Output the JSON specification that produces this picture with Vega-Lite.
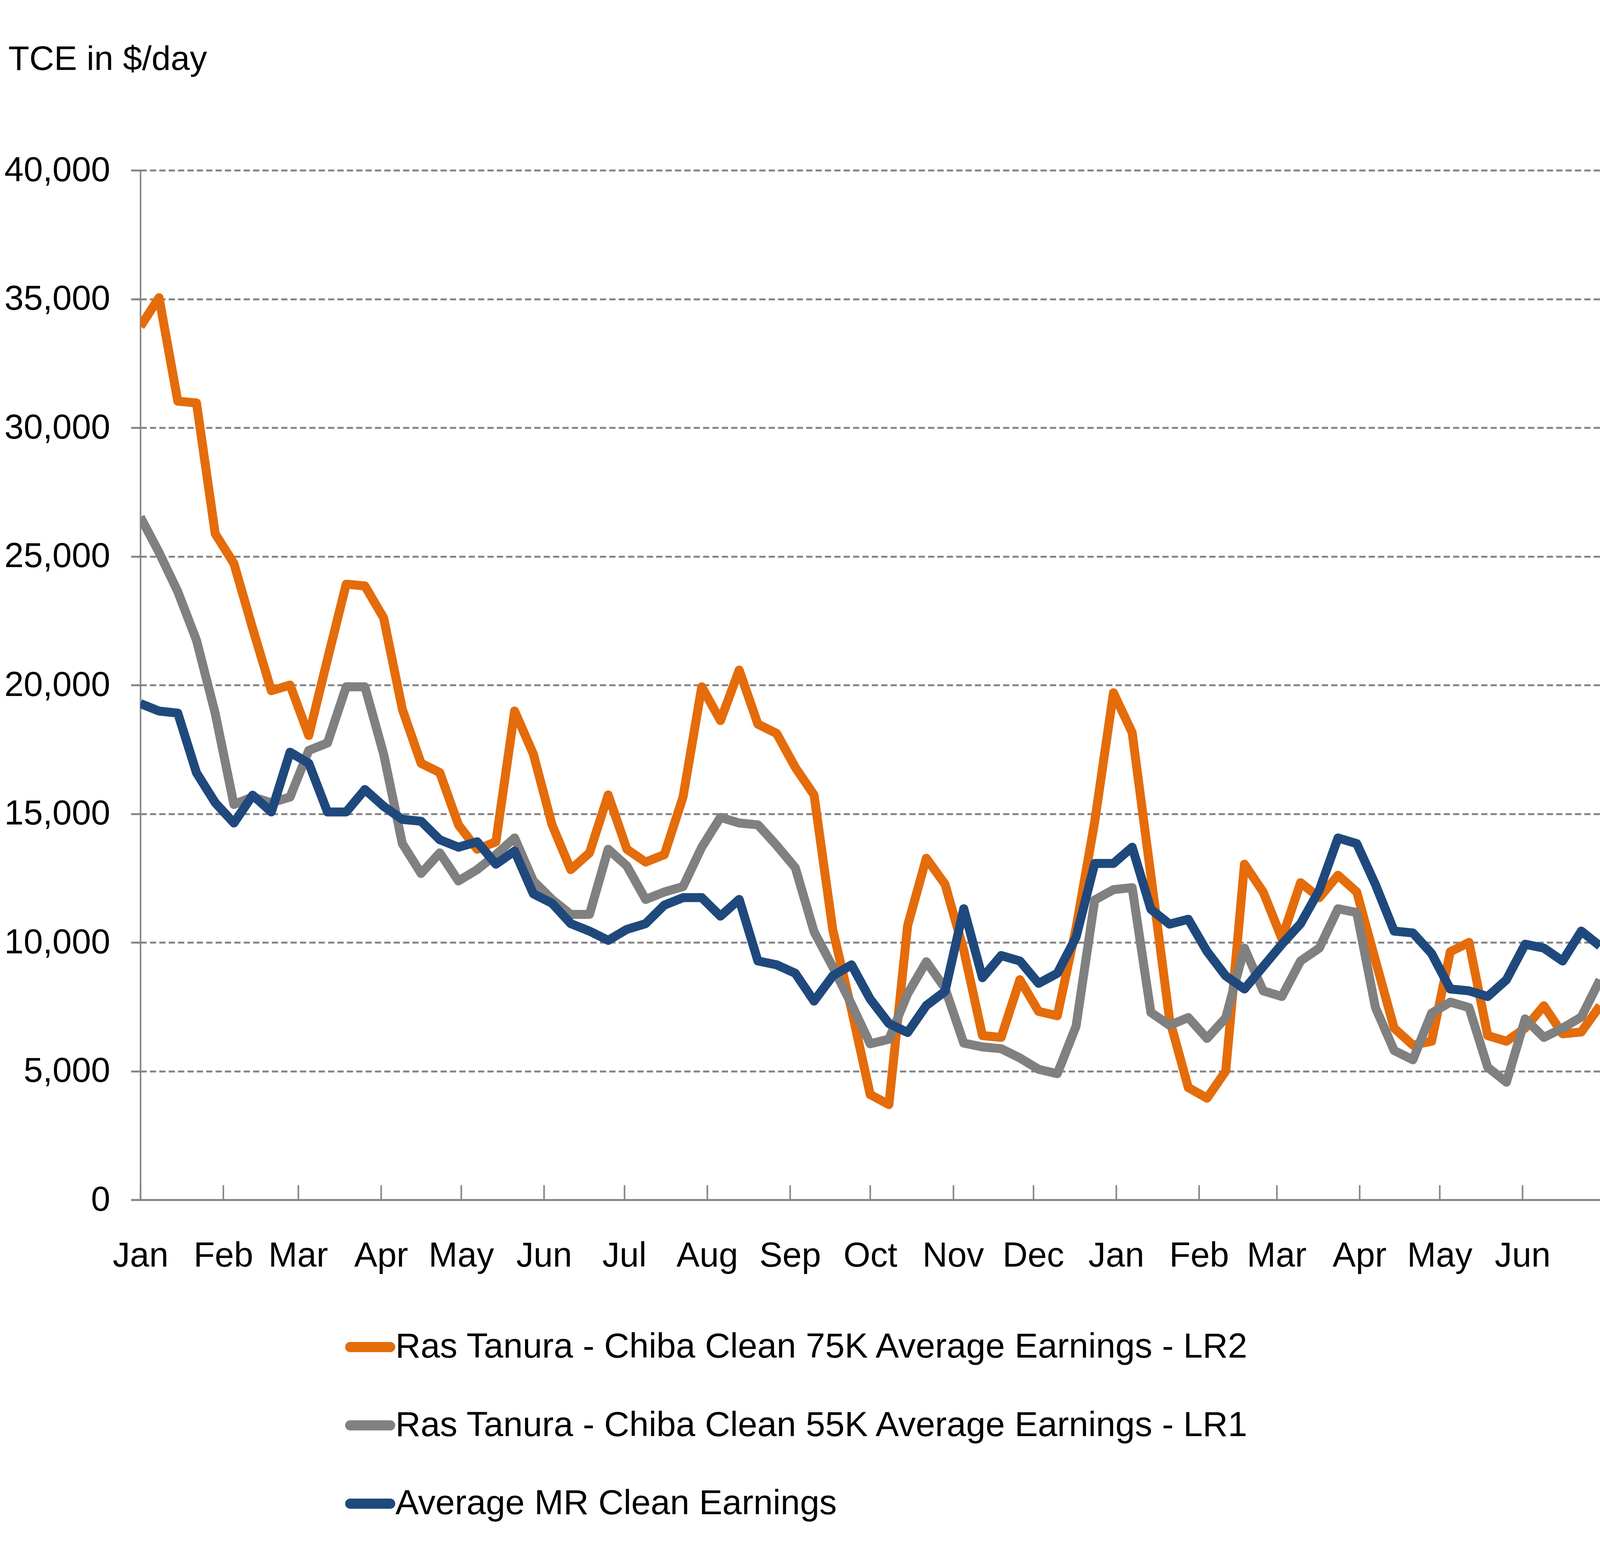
{
  "$schema": "https://vega.github.io/schema/vega-lite/v6.json",
  "width": 3736.7,
  "height": 2636,
  "autosize": {"type": "none"},
  "padding": {"left": 359.3, "top": 436, "right": 0, "bottom": 912},
  "background": "white",
  "config": {
    "view": {"stroke": null},
    "font": "Liberation Sans"
  },
  "data": {
    "values": [
      {"d": "2015-01-01", "Ras Tanura - Chiba Clean 75K Average Earnings - LR2": 33930, "Ras Tanura - Chiba Clean 55K Average Earnings - LR1": 26530, "Average MR Clean Earnings": 19280},
      {"d": "2015-01-08", "Ras Tanura - Chiba Clean 75K Average Earnings - LR2": 35050, "Ras Tanura - Chiba Clean 55K Average Earnings - LR1": 25150, "Average MR Clean Earnings": 18990},
      {"d": "2015-01-15", "Ras Tanura - Chiba Clean 75K Average Earnings - LR2": 31030, "Ras Tanura - Chiba Clean 55K Average Earnings - LR1": 23630, "Average MR Clean Earnings": 18910},
      {"d": "2015-01-22", "Ras Tanura - Chiba Clean 75K Average Earnings - LR2": 30960, "Ras Tanura - Chiba Clean 55K Average Earnings - LR1": 21740, "Average MR Clean Earnings": 16590},
      {"d": "2015-01-29", "Ras Tanura - Chiba Clean 75K Average Earnings - LR2": 25880, "Ras Tanura - Chiba Clean 55K Average Earnings - LR1": 18900, "Average MR Clean Earnings": 15430},
      {"d": "2015-02-05", "Ras Tanura - Chiba Clean 75K Average Earnings - LR2": 24720, "Ras Tanura - Chiba Clean 55K Average Earnings - LR1": 15360, "Average MR Clean Earnings": 14640},
      {"d": "2015-02-12", "Ras Tanura - Chiba Clean 75K Average Earnings - LR2": 22200, "Ras Tanura - Chiba Clean 55K Average Earnings - LR1": 15650, "Average MR Clean Earnings": 15720},
      {"d": "2015-02-19", "Ras Tanura - Chiba Clean 75K Average Earnings - LR2": 19780, "Ras Tanura - Chiba Clean 55K Average Earnings - LR1": 15430, "Average MR Clean Earnings": 15070},
      {"d": "2015-02-26", "Ras Tanura - Chiba Clean 75K Average Earnings - LR2": 20000, "Ras Tanura - Chiba Clean 55K Average Earnings - LR1": 15650, "Average MR Clean Earnings": 17390},
      {"d": "2015-03-05", "Ras Tanura - Chiba Clean 75K Average Earnings - LR2": 18040, "Ras Tanura - Chiba Clean 55K Average Earnings - LR1": 17460, "Average MR Clean Earnings": 16960},
      {"d": "2015-03-12", "Ras Tanura - Chiba Clean 75K Average Earnings - LR2": 21000, "Ras Tanura - Chiba Clean 55K Average Earnings - LR1": 17750, "Average MR Clean Earnings": 15070},
      {"d": "2015-03-19", "Ras Tanura - Chiba Clean 75K Average Earnings - LR2": 23920, "Ras Tanura - Chiba Clean 55K Average Earnings - LR1": 19930, "Average MR Clean Earnings": 15070},
      {"d": "2015-03-26", "Ras Tanura - Chiba Clean 75K Average Earnings - LR2": 23850, "Ras Tanura - Chiba Clean 55K Average Earnings - LR1": 19930, "Average MR Clean Earnings": 15940},
      {"d": "2015-04-02", "Ras Tanura - Chiba Clean 75K Average Earnings - LR2": 22610, "Ras Tanura - Chiba Clean 55K Average Earnings - LR1": 17320, "Average MR Clean Earnings": 15290},
      {"d": "2015-04-09", "Ras Tanura - Chiba Clean 75K Average Earnings - LR2": 19060, "Ras Tanura - Chiba Clean 55K Average Earnings - LR1": 13840, "Average MR Clean Earnings": 14780},
      {"d": "2015-04-16", "Ras Tanura - Chiba Clean 75K Average Earnings - LR2": 16960, "Ras Tanura - Chiba Clean 55K Average Earnings - LR1": 12680, "Average MR Clean Earnings": 14710},
      {"d": "2015-04-23", "Ras Tanura - Chiba Clean 75K Average Earnings - LR2": 16600, "Ras Tanura - Chiba Clean 55K Average Earnings - LR1": 13480, "Average MR Clean Earnings": 13990},
      {"d": "2015-04-30", "Ras Tanura - Chiba Clean 75K Average Earnings - LR2": 14565, "Ras Tanura - Chiba Clean 55K Average Earnings - LR1": 12390, "Average MR Clean Earnings": 13700},
      {"d": "2015-05-07", "Ras Tanura - Chiba Clean 75K Average Earnings - LR2": 13620, "Ras Tanura - Chiba Clean 55K Average Earnings - LR1": 12830, "Average MR Clean Earnings": 13910},
      {"d": "2015-05-14", "Ras Tanura - Chiba Clean 75K Average Earnings - LR2": 13910, "Ras Tanura - Chiba Clean 55K Average Earnings - LR1": 13410, "Average MR Clean Earnings": 13040},
      {"d": "2015-05-21", "Ras Tanura - Chiba Clean 75K Average Earnings - LR2": 18990, "Ras Tanura - Chiba Clean 55K Average Earnings - LR1": 14060, "Average MR Clean Earnings": 13550},
      {"d": "2015-05-28", "Ras Tanura - Chiba Clean 75K Average Earnings - LR2": 17320, "Ras Tanura - Chiba Clean 55K Average Earnings - LR1": 12390, "Average MR Clean Earnings": 11890},
      {"d": "2015-06-04", "Ras Tanura - Chiba Clean 75K Average Earnings - LR2": 14570, "Ras Tanura - Chiba Clean 55K Average Earnings - LR1": 11670, "Average MR Clean Earnings": 11520},
      {"d": "2015-06-11", "Ras Tanura - Chiba Clean 75K Average Earnings - LR2": 12830, "Ras Tanura - Chiba Clean 55K Average Earnings - LR1": 11090, "Average MR Clean Earnings": 10730},
      {"d": "2015-06-18", "Ras Tanura - Chiba Clean 75K Average Earnings - LR2": 13480, "Ras Tanura - Chiba Clean 55K Average Earnings - LR1": 11090, "Average MR Clean Earnings": 10440},
      {"d": "2015-06-25", "Ras Tanura - Chiba Clean 75K Average Earnings - LR2": 15730, "Ras Tanura - Chiba Clean 55K Average Earnings - LR1": 13620, "Average MR Clean Earnings": 10080},
      {"d": "2015-07-02", "Ras Tanura - Chiba Clean 75K Average Earnings - LR2": 13620, "Ras Tanura - Chiba Clean 55K Average Earnings - LR1": 12970, "Average MR Clean Earnings": 10510},
      {"d": "2015-07-09", "Ras Tanura - Chiba Clean 75K Average Earnings - LR2": 13120, "Ras Tanura - Chiba Clean 55K Average Earnings - LR1": 11670, "Average MR Clean Earnings": 10730},
      {"d": "2015-07-16", "Ras Tanura - Chiba Clean 75K Average Earnings - LR2": 13410, "Ras Tanura - Chiba Clean 55K Average Earnings - LR1": 11960, "Average MR Clean Earnings": 11450},
      {"d": "2015-07-23", "Ras Tanura - Chiba Clean 75K Average Earnings - LR2": 15650, "Ras Tanura - Chiba Clean 55K Average Earnings - LR1": 12170, "Average MR Clean Earnings": 11740},
      {"d": "2015-07-30", "Ras Tanura - Chiba Clean 75K Average Earnings - LR2": 19930, "Ras Tanura - Chiba Clean 55K Average Earnings - LR1": 13700, "Average MR Clean Earnings": 11740},
      {"d": "2015-08-06", "Ras Tanura - Chiba Clean 75K Average Earnings - LR2": 18620, "Ras Tanura - Chiba Clean 55K Average Earnings - LR1": 14860, "Average MR Clean Earnings": 11020},
      {"d": "2015-08-13", "Ras Tanura - Chiba Clean 75K Average Earnings - LR2": 20580, "Ras Tanura - Chiba Clean 55K Average Earnings - LR1": 14640, "Average MR Clean Earnings": 11670},
      {"d": "2015-08-20", "Ras Tanura - Chiba Clean 75K Average Earnings - LR2": 18480, "Ras Tanura - Chiba Clean 55K Average Earnings - LR1": 14570, "Average MR Clean Earnings": 9280},
      {"d": "2015-08-27", "Ras Tanura - Chiba Clean 75K Average Earnings - LR2": 18120, "Ras Tanura - Chiba Clean 55K Average Earnings - LR1": 13770, "Average MR Clean Earnings": 9130},
      {"d": "2015-09-03", "Ras Tanura - Chiba Clean 75K Average Earnings - LR2": 16800, "Ras Tanura - Chiba Clean 55K Average Earnings - LR1": 12900, "Average MR Clean Earnings": 8800},
      {"d": "2015-09-10", "Ras Tanura - Chiba Clean 75K Average Earnings - LR2": 15730, "Ras Tanura - Chiba Clean 55K Average Earnings - LR1": 10420, "Average MR Clean Earnings": 7720},
      {"d": "2015-09-17", "Ras Tanura - Chiba Clean 75K Average Earnings - LR2": 10500, "Ras Tanura - Chiba Clean 55K Average Earnings - LR1": 9050, "Average MR Clean Earnings": 8700},
      {"d": "2015-09-24", "Ras Tanura - Chiba Clean 75K Average Earnings - LR2": 7400, "Ras Tanura - Chiba Clean 55K Average Earnings - LR1": 7600, "Average MR Clean Earnings": 9130},
      {"d": "2015-10-01", "Ras Tanura - Chiba Clean 75K Average Earnings - LR2": 4090, "Ras Tanura - Chiba Clean 55K Average Earnings - LR1": 6060, "Average MR Clean Earnings": 7800},
      {"d": "2015-10-08", "Ras Tanura - Chiba Clean 75K Average Earnings - LR2": 3700, "Ras Tanura - Chiba Clean 55K Average Earnings - LR1": 6240, "Average MR Clean Earnings": 6850},
      {"d": "2015-10-15", "Ras Tanura - Chiba Clean 75K Average Earnings - LR2": 10650, "Ras Tanura - Chiba Clean 55K Average Earnings - LR1": 8000, "Average MR Clean Earnings": 6500},
      {"d": "2015-10-22", "Ras Tanura - Chiba Clean 75K Average Earnings - LR2": 13270, "Ras Tanura - Chiba Clean 55K Average Earnings - LR1": 9250, "Average MR Clean Earnings": 7550},
      {"d": "2015-10-29", "Ras Tanura - Chiba Clean 75K Average Earnings - LR2": 12260, "Ras Tanura - Chiba Clean 55K Average Earnings - LR1": 8220, "Average MR Clean Earnings": 8100},
      {"d": "2015-11-05", "Ras Tanura - Chiba Clean 75K Average Earnings - LR2": 9700, "Ras Tanura - Chiba Clean 55K Average Earnings - LR1": 6090, "Average MR Clean Earnings": 11310},
      {"d": "2015-11-12", "Ras Tanura - Chiba Clean 75K Average Earnings - LR2": 6380, "Ras Tanura - Chiba Clean 55K Average Earnings - LR1": 5940, "Average MR Clean Earnings": 8630},
      {"d": "2015-11-19", "Ras Tanura - Chiba Clean 75K Average Earnings - LR2": 6310, "Ras Tanura - Chiba Clean 55K Average Earnings - LR1": 5870, "Average MR Clean Earnings": 9490},
      {"d": "2015-11-26", "Ras Tanura - Chiba Clean 75K Average Earnings - LR2": 8550, "Ras Tanura - Chiba Clean 55K Average Earnings - LR1": 5510, "Average MR Clean Earnings": 9280},
      {"d": "2015-12-03", "Ras Tanura - Chiba Clean 75K Average Earnings - LR2": 7320, "Ras Tanura - Chiba Clean 55K Average Earnings - LR1": 5070, "Average MR Clean Earnings": 8410},
      {"d": "2015-12-10", "Ras Tanura - Chiba Clean 75K Average Earnings - LR2": 7150, "Ras Tanura - Chiba Clean 55K Average Earnings - LR1": 4900, "Average MR Clean Earnings": 8800},
      {"d": "2015-12-17", "Ras Tanura - Chiba Clean 75K Average Earnings - LR2": 10550, "Ras Tanura - Chiba Clean 55K Average Earnings - LR1": 6740, "Average MR Clean Earnings": 10200},
      {"d": "2015-12-24", "Ras Tanura - Chiba Clean 75K Average Earnings - LR2": 14700, "Ras Tanura - Chiba Clean 55K Average Earnings - LR1": 11650, "Average MR Clean Earnings": 13070},
      {"d": "2015-12-31", "Ras Tanura - Chiba Clean 75K Average Earnings - LR2": 19700, "Ras Tanura - Chiba Clean 55K Average Earnings - LR1": 12050, "Average MR Clean Earnings": 13070},
      {"d": "2016-01-07", "Ras Tanura - Chiba Clean 75K Average Earnings - LR2": 18150, "Ras Tanura - Chiba Clean 55K Average Earnings - LR1": 12130, "Average MR Clean Earnings": 13700},
      {"d": "2016-01-14", "Ras Tanura - Chiba Clean 75K Average Earnings - LR2": 12600, "Ras Tanura - Chiba Clean 55K Average Earnings - LR1": 7280, "Average MR Clean Earnings": 11290},
      {"d": "2016-01-21", "Ras Tanura - Chiba Clean 75K Average Earnings - LR2": 7000, "Ras Tanura - Chiba Clean 55K Average Earnings - LR1": 6780, "Average MR Clean Earnings": 10710},
      {"d": "2016-01-28", "Ras Tanura - Chiba Clean 75K Average Earnings - LR2": 4360, "Ras Tanura - Chiba Clean 55K Average Earnings - LR1": 7080, "Average MR Clean Earnings": 10900},
      {"d": "2016-02-04", "Ras Tanura - Chiba Clean 75K Average Earnings - LR2": 3950, "Ras Tanura - Chiba Clean 55K Average Earnings - LR1": 6270, "Average MR Clean Earnings": 9650},
      {"d": "2016-02-11", "Ras Tanura - Chiba Clean 75K Average Earnings - LR2": 5000, "Ras Tanura - Chiba Clean 55K Average Earnings - LR1": 7070, "Average MR Clean Earnings": 8700},
      {"d": "2016-02-18", "Ras Tanura - Chiba Clean 75K Average Earnings - LR2": 13040, "Ras Tanura - Chiba Clean 55K Average Earnings - LR1": 9780, "Average MR Clean Earnings": 8190},
      {"d": "2016-02-25", "Ras Tanura - Chiba Clean 75K Average Earnings - LR2": 11960, "Ras Tanura - Chiba Clean 55K Average Earnings - LR1": 8120, "Average MR Clean Earnings": 9060},
      {"d": "2016-03-03", "Ras Tanura - Chiba Clean 75K Average Earnings - LR2": 10150, "Ras Tanura - Chiba Clean 55K Average Earnings - LR1": 7900, "Average MR Clean Earnings": 9930},
      {"d": "2016-03-10", "Ras Tanura - Chiba Clean 75K Average Earnings - LR2": 12320, "Ras Tanura - Chiba Clean 55K Average Earnings - LR1": 9280, "Average MR Clean Earnings": 10730},
      {"d": "2016-03-17", "Ras Tanura - Chiba Clean 75K Average Earnings - LR2": 11740, "Ras Tanura - Chiba Clean 55K Average Earnings - LR1": 9780, "Average MR Clean Earnings": 12030},
      {"d": "2016-03-24", "Ras Tanura - Chiba Clean 75K Average Earnings - LR2": 12610, "Ras Tanura - Chiba Clean 55K Average Earnings - LR1": 11310, "Average MR Clean Earnings": 14060},
      {"d": "2016-03-31", "Ras Tanura - Chiba Clean 75K Average Earnings - LR2": 11960, "Ras Tanura - Chiba Clean 55K Average Earnings - LR1": 11160, "Average MR Clean Earnings": 13840},
      {"d": "2016-04-07", "Ras Tanura - Chiba Clean 75K Average Earnings - LR2": 9300, "Ras Tanura - Chiba Clean 55K Average Earnings - LR1": 7470, "Average MR Clean Earnings": 12250},
      {"d": "2016-04-14", "Ras Tanura - Chiba Clean 75K Average Earnings - LR2": 6670, "Ras Tanura - Chiba Clean 55K Average Earnings - LR1": 5800, "Average MR Clean Earnings": 10440},
      {"d": "2016-04-21", "Ras Tanura - Chiba Clean 75K Average Earnings - LR2": 6010, "Ras Tanura - Chiba Clean 55K Average Earnings - LR1": 5440, "Average MR Clean Earnings": 10370},
      {"d": "2016-04-28", "Ras Tanura - Chiba Clean 75K Average Earnings - LR2": 6160, "Ras Tanura - Chiba Clean 55K Average Earnings - LR1": 7250, "Average MR Clean Earnings": 9570},
      {"d": "2016-05-05", "Ras Tanura - Chiba Clean 75K Average Earnings - LR2": 9640, "Ras Tanura - Chiba Clean 55K Average Earnings - LR1": 7680, "Average MR Clean Earnings": 8190},
      {"d": "2016-05-12", "Ras Tanura - Chiba Clean 75K Average Earnings - LR2": 10000, "Ras Tanura - Chiba Clean 55K Average Earnings - LR1": 7470, "Average MR Clean Earnings": 8120},
      {"d": "2016-05-19", "Ras Tanura - Chiba Clean 75K Average Earnings - LR2": 6380, "Ras Tanura - Chiba Clean 55K Average Earnings - LR1": 5150, "Average MR Clean Earnings": 7900},
      {"d": "2016-05-26", "Ras Tanura - Chiba Clean 75K Average Earnings - LR2": 6160, "Ras Tanura - Chiba Clean 55K Average Earnings - LR1": 4570, "Average MR Clean Earnings": 8550},
      {"d": "2016-06-02", "Ras Tanura - Chiba Clean 75K Average Earnings - LR2": 6670, "Ras Tanura - Chiba Clean 55K Average Earnings - LR1": 7030, "Average MR Clean Earnings": 9930},
      {"d": "2016-06-09", "Ras Tanura - Chiba Clean 75K Average Earnings - LR2": 7540, "Ras Tanura - Chiba Clean 55K Average Earnings - LR1": 6310, "Average MR Clean Earnings": 9780},
      {"d": "2016-06-16", "Ras Tanura - Chiba Clean 75K Average Earnings - LR2": 6450, "Ras Tanura - Chiba Clean 55K Average Earnings - LR1": 6670, "Average MR Clean Earnings": 9280},
      {"d": "2016-06-23", "Ras Tanura - Chiba Clean 75K Average Earnings - LR2": 6520, "Ras Tanura - Chiba Clean 55K Average Earnings - LR1": 7100, "Average MR Clean Earnings": 10440},
      {"d": "2016-06-30", "Ras Tanura - Chiba Clean 75K Average Earnings - LR2": 7540, "Ras Tanura - Chiba Clean 55K Average Earnings - LR1": 8550, "Average MR Clean Earnings": 9860}
    ]
  },
  "transform": [
    {"fold": ["Ras Tanura - Chiba Clean 75K Average Earnings - LR2", "Ras Tanura - Chiba Clean 55K Average Earnings - LR1", "Average MR Clean Earnings"], "as": ["series", "value"]}
  ],
  "mark": {"type": "line", "strokeWidth": 23, "strokeJoin": "round", "strokeCap": "butt", "clip": true},
  "encoding": {
    "x": {
      "field": "d",
      "type": "temporal",
      "scale": {"type": "utc", "domain": [{"year": 2015, "month": 1, "date": 1, "utc": true}, {"year": 2016, "month": 6, "date": 30, "utc": true}], "nice": false},
      "axis": {
        "title": null,
        "format": "%b",
        "tickCount": {"interval": "month", "step": 1},
        "grid": false,
        "domainColor": "#868686",
        "domainWidth": 5,
        "tickColor": "#868686",
        "tickWidth": 4,
        "tickSize": -38,
        "labelFontSize": 88.6,
        "labelFont": "Liberation Sans",
        "labelColor": "#000000",
        "labelPadding": 138,
        "labelLimit": 2000,
        "labelFlush": false,
        "labelOverlap": false,
        "labelBound": false
      }
    },
    "y": {
      "field": "value",
      "type": "quantitative",
      "scale": {"domain": [0, 40000], "nice": false, "zero": true},
      "axis": {
        "values": [0, 5000, 10000, 15000, 20000, 25000, 30000, 35000, 40000],
        "format": ",d",
        "title": "TCE in $/day",
        "titleAngle": 0,
        "titleAlign": "left",
        "titleBaseline": "alphabetic",
        "titleX": -338.5,
        "titleY": -257.5,
        "titleFontSize": 88,
        "titleFontWeight": "normal",
        "titleFont": "Liberation Sans",
        "titleColor": "#000000",
        "titleLimit": 3000,
        "grid": true,
        "gridColor": "#868686",
        "gridDash": [16, 8],
        "gridWidth": 5,
        "domainColor": "#868686",
        "domainWidth": 4,
        "tickColor": "#868686",
        "tickWidth": 5,
        "tickSize": 24.2,
        "labelFontSize": 88.6,
        "labelFont": "Liberation Sans",
        "labelColor": "#000000",
        "labelPadding": 53.4,
        "labelLimit": 2000
      }
    },
    "color": {
      "field": "series",
      "type": "nominal",
      "scale": {
        "domain": ["Ras Tanura - Chiba Clean 75K Average Earnings - LR2", "Ras Tanura - Chiba Clean 55K Average Earnings - LR1", "Average MR Clean Earnings"],
        "range": ["#E46C0A", "#808080", "#1F497D"]
      },
      "legend": {
        "title": null,
        "orient": "none",
        "legendX": 523.9,
        "legendY": 2948.5,
        "direction": "vertical",
        "padding": 0,
        "symbolType": "stroke",
        "symbolSize": 10465,
        "symbolStrokeWidth": 26,
        "labelFontSize": 89.3,
        "labelFont": "Liberation Sans",
        "labelColor": "#000000",
        "labelOffset": 0,
        "labelLimit": 6000,
        "rowPadding": 83.5,
        "encode": {"symbols": {"update": {"strokeCap": {"value": "round"}}}}
      }
    }
  }
}
